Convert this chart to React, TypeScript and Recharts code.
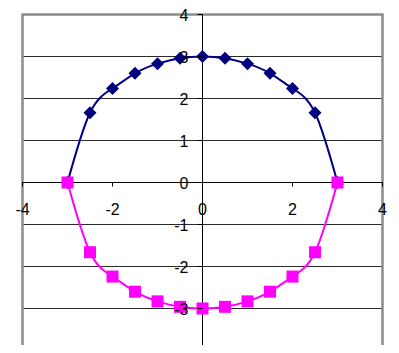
import { LineChart, Line, XAxis, YAxis, CartesianGrid, ReferenceLine, ReferenceArea } from 'recharts'

const X_VALUES = [-3, -2.5, -2, -1.5, -1, -0.5, 0, 0.5, 1, 1.5, 2, 2.5, 3]
const UPPER = [0, 1.66, 2.24, 2.6, 2.83, 2.96, 3, 2.96, 2.83, 2.6, 2.24, 1.66, 0]
const LOWER = [0, -1.66, -2.24, -2.6, -2.83, -2.96, -3, -2.96, -2.83, -2.6, -2.24, -1.66, 0]
const X_TICKS = [-4, -2, 0, 2, 4]
const Y_TICKS = [-4, -3, -2, -1, 0, 1, 2, 3, 4]

const W = 399
const H = 353
const Y_AXIS_W = 22.5
const X_AXIS_H = 1
const MARGIN = { top: 14.5, right: 16.5, bottom: 1.5, left: 0 }
const PLOT_W = W - Y_AXIS_W - MARGIN.right
const PLOT_H = H - MARGIN.top - MARGIN.bottom - X_AXIS_H
const ZERO_X = Y_AXIS_W + PLOT_W / 2
const ZERO_Y = MARGIN.top + PLOT_H / 2
const FONT = '"Liberation Sans", Arial, sans-serif'

const data = X_VALUES.map((x, i) => ({ x, upper: UPPER[i], lower: LOWER[i] }))

const Diamond = (props: any) => {
  const { cx, cy } = props
  if (cx == null || cy == null) return null
  const r = 6.5
  return <polygon points={`${cx},${cy - r} ${cx + r},${cy} ${cx},${cy + r} ${cx - r},${cy}`} fill="#000080" />
}

const Square = (props: any) => {
  const { cx, cy } = props
  if (cx == null || cy == null) return null
  return <rect x={cx - 6} y={cy - 6} width={12} height={12} fill="#ff00ff" />
}

// ticks are drawn on the zero lines, like Excel's crossing axes
const XTick = (props: any) => {
  const { x, payload } = props
  return (
    <g>
      <line x1={x} x2={x} y1={ZERO_Y} y2={ZERO_Y + 4} stroke="#000" />
      <text x={x} y={ZERO_Y + 32} textAnchor="middle" fontSize={16} fontFamily={FONT} fill="#000">
        {payload.value}
      </text>
    </g>
  )
}

const YTick = (props: any) => {
  const { y, payload } = props
  return (
    <g>
      <line x1={ZERO_X - 5} x2={ZERO_X} y1={y} y2={y} stroke="#000" />
      <text x={ZERO_X - 14} y={y + 6} textAnchor="end" fontSize={16} fontFamily={FONT} fill="#000">
        {payload.value}
      </text>
    </g>
  )
}

export default function App() {
  return (
    <div style={{ margin: -8, width: W, height: H, background: '#fff' }}>
      <LineChart width={W} height={H} data={data} margin={MARGIN}>
        <CartesianGrid vertical={false} stroke="#2a2a2a" />
        <ReferenceArea x1={-4} x2={4} y1={-4} y2={4} fill="none" stroke="#8c8c8c" strokeWidth={2.5} ifOverflow="visible" />
        <ReferenceLine y={0} stroke="#000" />
        <ReferenceLine x={0} stroke="#000" />
        <XAxis
          dataKey="x"
          type="number"
          domain={[-4, 4]}
          ticks={X_TICKS}
          height={X_AXIS_H}
          axisLine={false}
          tickLine={false}
          tick={<XTick />}
          interval={0}
        />
        <YAxis
          type="number"
          domain={[-4, 4]}
          ticks={Y_TICKS}
          width={Y_AXIS_W}
          axisLine={false}
          tickLine={false}
          tick={<YTick />}
          interval={0}
        />
        <Line dataKey="upper" type="natural" stroke="#000080" strokeWidth={2} dot={<Diamond />} isAnimationActive={false} />
        <Line dataKey="lower" type="natural" stroke="#ff00ff" strokeWidth={2} dot={<Square />} isAnimationActive={false} />
      </LineChart>
    </div>
  )
}
